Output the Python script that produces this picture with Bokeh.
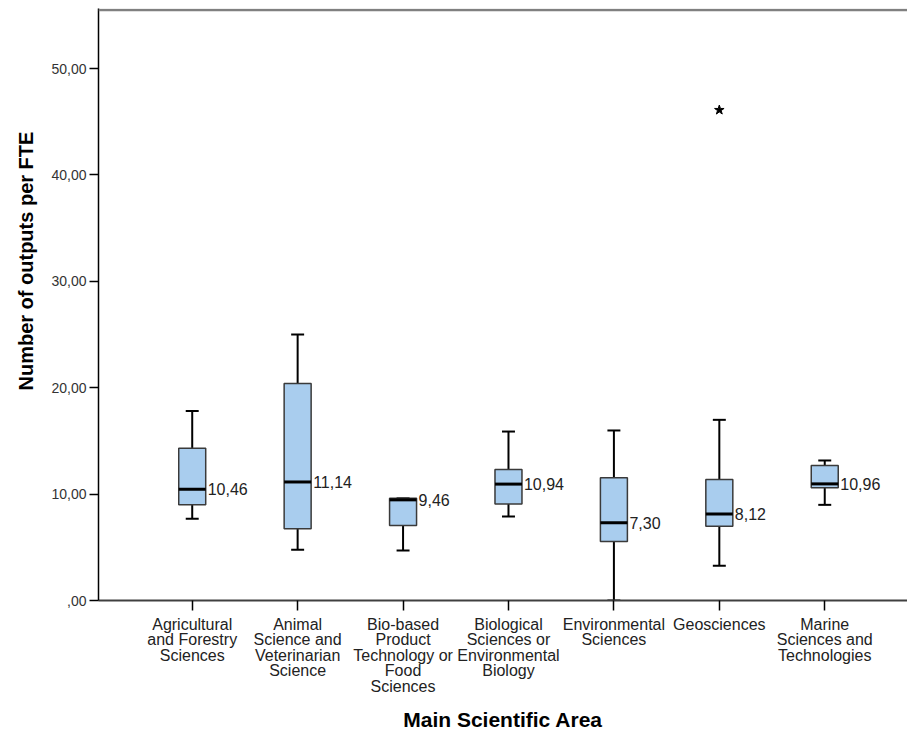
from bokeh.plotting import figure
from bokeh.models import Range1d, FixedTicker, Span, Title
from bokeh.embed import file_html
from bokeh.resources import INLINE
from bokeh.core.properties import value

# ---- data ----
categories = [
    "Agricultural\nand Forestry\nSciences",
    "Animal\nScience and\nVeterinarian\nScience",
    "Bio-based\nProduct\nTechnology or\nFood\nSciences",
    "Biological\nSciences or\nEnvironmental\nBiology",
    "Environmental\nSciences",
    "Geosciences",
    "Marine\nSciences and\nTechnologies",
]
whisker_low = [7.68, 4.76, 4.70, 7.89, 0.00, 3.26, 8.99]
q1 = [9.00, 6.74, 7.05, 9.08, 5.54, 6.99, 10.59]
median = [10.46, 11.14, 9.46, 10.94, 7.30, 8.12, 10.96]
q3 = [14.30, 20.40, 9.60, 12.31, 11.53, 11.37, 12.69]
whisker_high = [17.80, 25.00, 9.60, 15.88, 15.98, 16.98, 13.16]
outlier_cat = [6]
outlier_val = [46.1]
y_ticks = [0, 10, 20, 30, 40, 50]
y_tick_labels = [",00", "10,00", "20,00", "30,00", "40,00", "50,00"]

FONT = "Liberation Sans"
xs = list(range(1, len(categories) + 1))
box_w = 0.256
cap_w = 0.123

p = figure(width=907, height=734,
           x_range=Range1d(0.111, 7.785), y_range=Range1d(0, 55.64),
           output_backend="svg", toolbar_location=None,
           min_border_left=98, min_border_right=0, min_border_top=8,
           min_border_bottom=134)
p.outline_line_color = None
p.xgrid.visible = False
p.ygrid.visible = False
p.background_fill_color = "white"
p.border_fill_color = "white"

# top frame line
p.add_layout(Span(location=55.50, dimension="width", line_color="#808080", line_width=2.5))

# whiskers
p.segment(x0=xs, y0=q3, x1=xs, y1=whisker_high, line_color="black", line_width=2)
p.segment(x0=xs, y0=whisker_low, x1=xs, y1=q1, line_color="black", line_width=2)
# caps
p.segment(x0=[x - cap_w / 2 for x in xs], y0=whisker_high,
          x1=[x + cap_w / 2 for x in xs], y1=whisker_high, line_color="black", line_width=2)
p.segment(x0=[x - cap_w / 2 for x in xs], y0=whisker_low,
          x1=[x + cap_w / 2 for x in xs], y1=whisker_low, line_color="black", line_width=2)
# boxes
p.vbar(x=xs, width=box_w, bottom=q1, top=q3, fill_color="#A9CDEE",
       line_color="#3a3a3a", line_width=1.5)
# medians
p.segment(x0=[x - box_w / 2 for x in xs], y0=median,
          x1=[x + box_w / 2 for x in xs], y1=median, line_color="black", line_width=3)
# median labels
p.text(x=[x + box_w / 2 for x in xs], y=median,
       text=[f"{m:.2f}".replace(".", ",") for m in median],
       x_offset=2, text_align="left", text_baseline="middle",
       text_font=value(FONT), text_font_size="16px", text_color="#222222")
# outlier
p.scatter(x=outlier_cat, y=outlier_val, marker="star", size=10,
          fill_color="black", line_color="black")

# axes
ya = p.yaxis[0]
ya.ticker = FixedTicker(ticks=y_ticks)
ya.major_label_overrides = {t: l for t, l in zip(y_ticks, y_tick_labels)}
ya.axis_line_color = "black"
ya.axis_line_width = 1.5
ya.major_tick_line_color = "black"
ya.major_tick_line_width = 1.5
ya.major_tick_out = 9
ya.major_tick_in = 0
ya.minor_tick_line_color = None
ya.major_label_standoff = 3
ya.major_label_text_font = FONT
ya.major_label_text_font_size = "14px"
ya.major_label_text_color = "#333333"

xa = p.xaxis[0]
xa.ticker = FixedTicker(ticks=xs)
xa.major_label_overrides = {x: c for x, c in zip(xs, categories)}
xa.axis_line_color = "#404040"
xa.axis_line_width = 2
xa.major_tick_line_color = "black"
xa.major_tick_line_width = 1.5
xa.major_tick_out = 10
xa.major_tick_in = 0
xa.minor_tick_line_color = None
xa.major_label_standoff = 5
xa.major_label_text_font = FONT
xa.major_label_text_font_size = "16px"
xa.major_label_text_line_height = 0.92
xa.major_label_text_color = "#222222"
xa.axis_label = "Main Scientific Area"
xa.axis_label_standoff = 10
xa.axis_label_text_font = FONT
xa.axis_label_text_font_size = "21px"
xa.axis_label_text_font_style = "bold"
xa.axis_label_text_color = "black"

# y axis title
p.add_layout(Title(text="Number of outputs per FTE", align="left", offset=210,
                   standoff=23,
                   text_font=FONT, text_font_size="20px", text_font_style="bold",
                   text_color="black"), "left")

open("out.html", "w").write(file_html(p, INLINE))
